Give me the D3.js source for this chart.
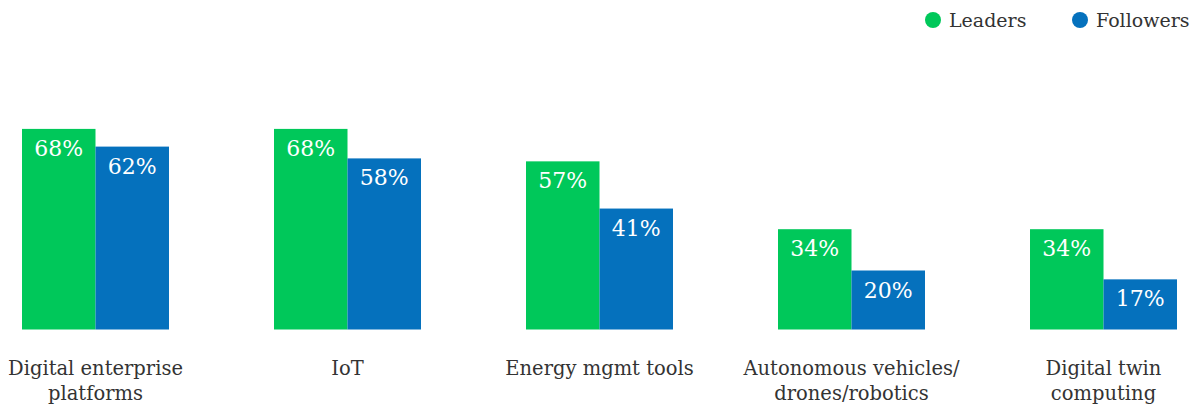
<!DOCTYPE html>
<html>
<head>
<meta charset="utf-8">
<script src="https://cdn.jsdelivr.net/npm/d3@7"></script>
<style>
  body { margin: 0; background: #fff; }
  text { font-family: "Roboto Slab", "DejaVu Serif", serif; }
</style>
</head>
<body>
<svg id="chart"></svg>
<script>
const categories = [
  ["Digital enterprise", "platforms"],
  ["IoT"],
  ["Energy mgmt tools"],
  ["Autonomous vehicles/", "drones/robotics"],
  ["Digital twin", "computing"]
];
const seriesNames = ["Leaders", "Followers"];
const leaders   = [68, 68, 57, 34, 34];
const followers = [62, 58, 41, 20, 17];
const colors = ["#00c85a", "#0571bd"];

const width = 1203;
const height = 409;

const svg = d3.select("#chart")
  .attr("width", width)
  .attr("height", height);

const x0 = d3.scaleBand()
  .domain(d3.range(categories.length))
  .range([22, 1177])
  .paddingInner(0.4167)
  .paddingOuter(0);

const x1 = d3.scaleBand()
  .domain(seriesNames)
  .range([0, x0.bandwidth()]);

const y = d3.scaleLinear()
  .domain([0, 100])
  .range([329.5, 34.5]);

const rows = categories.map((c, i) => ({ i, values: [leaders[i], followers[i]] }));

const group = svg.selectAll("g.grp")
  .data(rows)
  .enter().append("g")
  .attr("class", "grp")
  .attr("transform", d => `translate(${x0(d.i)},0)`);

group.selectAll("rect")
  .data(d => d.values.map((v, k) => ({ v, k })))
  .enter().append("rect")
  .attr("x", d => x1(seriesNames[d.k]))
  .attr("width", x1.bandwidth())
  .attr("y", d => y(d.v))
  .attr("height", d => y(0) - y(d.v))
  .attr("fill", d => colors[d.k]);

group.selectAll("text.val")
  .data(d => d.values.map((v, k) => ({ v, k })))
  .enter().append("text")
  .attr("class", "val")
  .attr("x", d => x1(seriesNames[d.k]) + x1.bandwidth() / 2)
  .attr("y", d => y(d.v) + 27)
  .attr("text-anchor", "middle")
  .attr("fill", "#fff")
  .style("font-size", "22px")
  .style("font-weight", 300)
  .text(d => d.v + "%");

// category labels
const lab = group.append("text")
  .attr("x", x0.bandwidth() / 2)
  .attr("y", 375)
  .attr("text-anchor", "middle")
  .attr("fill", "#333")
  .style("font-size", "19.5px");

lab.selectAll("tspan")
  .data(d => categories[d.i])
  .enter().append("tspan")
  .attr("x", x0.bandwidth() / 2)
  .attr("dy", (d, j) => j === 0 ? 0 : 25)
  .text(d => d);

// legend
const legend = svg.append("g");
const legendX = [933, 1080];
seriesNames.forEach((name, k) => {
  legend.append("circle")
    .attr("cx", legendX[k])
    .attr("cy", 20)
    .attr("r", 8)
    .attr("fill", colors[k]);
  legend.append("text")
    .attr("x", legendX[k] + 16)
    .attr("y", 27)
    .attr("fill", "#333")
    .style("font-size", "19px")
    .text(name);
});
</script>
</body>
</html>
